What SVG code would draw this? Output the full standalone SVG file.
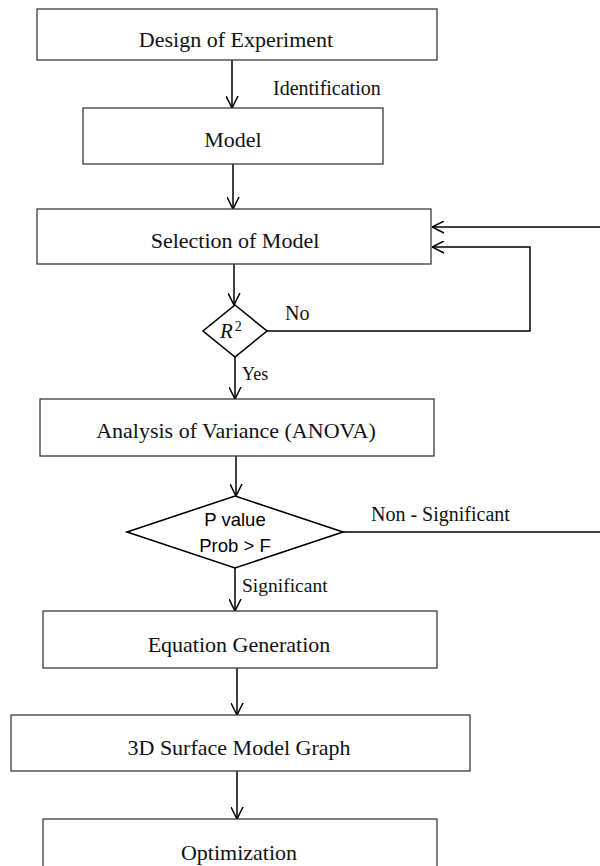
<svg xmlns="http://www.w3.org/2000/svg" width="600" height="866" viewBox="0 0 600 866">
<defs>
<style>
.box{fill:#fff;stroke:#3a3a3a;stroke-width:1.3}
.dia{fill:#fff;stroke:#000;stroke-width:1.6}
.t{font-family:"Liberation Serif","Times New Roman",serif;font-size:22px;fill:#111;text-anchor:middle}
.lbl{font-family:"Liberation Serif","Times New Roman",serif;font-size:20px;fill:#111}
.sans{font-family:"Liberation Sans",Arial,sans-serif;font-size:18.5px;fill:#000;text-anchor:middle}
.c{fill:none;stroke:#000;stroke-width:1.5}
</style>
<marker id="ah" viewBox="0 0 13 13" refX="12.5" refY="6.5" markerWidth="13" markerHeight="13" markerUnits="userSpaceOnUse" orient="auto">
<path d="M0.5,0.5 L12.5,6.5 L0.5,12.5" fill="none" stroke="#000" stroke-width="1.5"/>
</marker>
</defs>
<rect width="600" height="866" fill="#fff"/>
<g id="connectors">
<line class="c" x1="232" y1="60" x2="232" y2="108" marker-end="url(#ah)"/>
<line class="c" x1="233" y1="164" x2="233" y2="209" marker-end="url(#ah)"/>
<line class="c" x1="234" y1="264" x2="234" y2="305" marker-end="url(#ah)"/>
<line class="c" x1="235" y1="357" x2="235" y2="399" marker-end="url(#ah)"/>
<polyline class="c" points="267,331 530,331 530,247 432,247" marker-end="url(#ah)"/>
<line class="c" x1="600" y1="227" x2="432" y2="227" marker-end="url(#ah)"/>
<line class="c" x1="236" y1="456" x2="236" y2="496" marker-end="url(#ah)"/>
<line class="c" x1="343" y1="532" x2="600" y2="532"/>
<line class="c" x1="235" y1="568" x2="235" y2="611" marker-end="url(#ah)"/>
<line class="c" x1="237" y1="668" x2="237" y2="715" marker-end="url(#ah)"/>
<line class="c" x1="237" y1="771" x2="237" y2="819" marker-end="url(#ah)"/>
<text class="lbl" x="273" y="95">Identification</text>
<text class="lbl" x="285" y="320">No</text>
<text class="lbl" x="242" y="380" style="font-size:18px">Yes</text>
<text class="lbl" x="371" y="521">Non - Significant</text>
<text class="lbl" x="242" y="592" style="font-size:19.5px">Significant</text>
</g>
<g id="n-design">
<rect class="box" x="37" y="9" width="400" height="51"/>
<text class="t" x="236" y="47">Design of Experiment</text>
</g>
<g id="n-model">
<rect class="box" x="83" y="108" width="300" height="56"/>
<text class="t" x="233" y="147">Model</text>
</g>
<g id="n-selection">
<rect class="box" x="37" y="209" width="394" height="55"/>
<text class="t" x="235" y="248">Selection of Model</text>
</g>
<g id="n-r2">
<polygon class="dia" points="235,305 267,331 235,357 203,331"/>
<text x="220" y="338" style="font-family:'Liberation Serif','Times New Roman',serif;font-size:21px;font-style:italic;fill:#111">R<tspan dx="2" dy="-7" style="font-style:normal;font-size:14px">2</tspan></text>
</g>
<g id="n-anova">
<rect class="box" x="40" y="399" width="394" height="57"/>
<text class="t" x="236" y="438">Analysis of Variance (ANOVA)</text>
</g>
<g id="n-pvalue">
<polygon class="dia" points="235,496 343,532 235,568 127,532"/>
<text class="sans" x="235" y="526">P value</text>
<text class="sans" x="235" y="552">Prob &gt; F</text>
</g>
<g id="n-equation">
<rect class="box" x="43" y="611" width="394" height="57"/>
<text class="t" x="239" y="652">Equation Generation</text>
</g>
<g id="n-surface">
<rect class="box" x="11" y="715" width="459" height="56"/>
<text class="t" x="239" y="755">3D Surface Model Graph</text>
</g>
<g id="n-optimization">
<rect class="box" x="43" y="819" width="394" height="70"/>
<text class="t" x="239" y="860">Optimization</text>
</g>
</svg>
